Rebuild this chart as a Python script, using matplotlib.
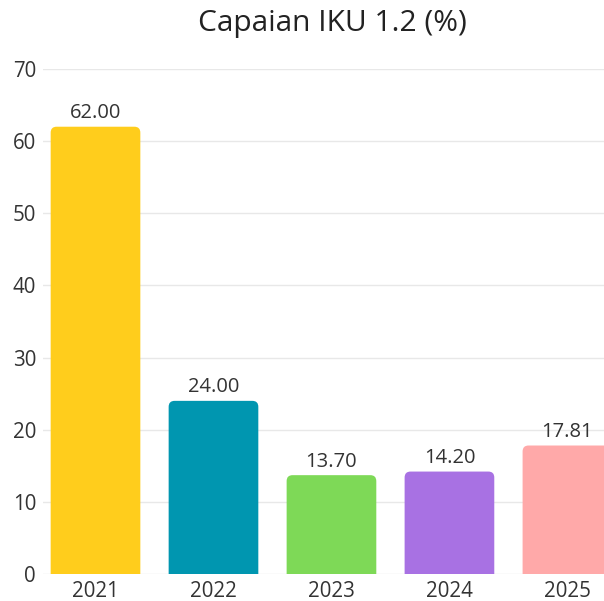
import matplotlib.pyplot as plt
from matplotlib.patches import FancyBboxPatch

years = ["2021", "2022", "2023", "2024", "2025"]
values = [62.00, 24.00, 13.70, 14.20, 17.81]
colors = ["#FFCD1C", "#0096B0", "#7ED957", "#A871E3", "#FFA9A9"]

plt.rcParams['font.family'] = ['Open Sans', 'DejaVu Sans']

fig = plt.figure(figsize=(6.04, 6.01), dpi=100)
ax = fig.add_axes([43 / 604, 27 / 601, 561 / 604, 505 / 601])

x = list(range(len(years)))
bars = ax.bar(x, values, width=0.76, color=colors)

# swap plain bars for ones with rounded top corners
for b, c in zip(bars, colors):
    b.set_visible(False)
    rb = FancyBboxPatch((b.get_x(), -2), b.get_width(), b.get_height() + 2,
                        boxstyle="round,pad=0,rounding_size=0.05",
                        mutation_aspect=16.5, fc=c, ec="none", zorder=3)
    ax.add_patch(rb)

for xi, v in zip(x, values):
    ax.text(xi, v + 0.5, f"{v:.2f}", ha="center", va="bottom",
            fontsize=14.5, color="#333333", zorder=4)

ax.set_xlim(-0.445, 4.31)
ax.set_ylim(0, 70)
ax.set_yticks(range(0, 71, 10))
ax.set_xticks(x)
ax.set_xticklabels(years)
ax.tick_params(length=0, labelsize=14.8, colors="#333333", pad=5)
ax.grid(axis="y", color="#E8E8E8", linewidth=1)
ax.set_axisbelow(True)
for s in ax.spines.values():
    s.set_visible(False)

fig.text(332 / 604, 1 - 24 / 601, "Capaian IKU 1.2 (%)", ha="center", va="center",
         fontsize=21.5, color="#222222")

fig.savefig("out.png", dpi=100)
